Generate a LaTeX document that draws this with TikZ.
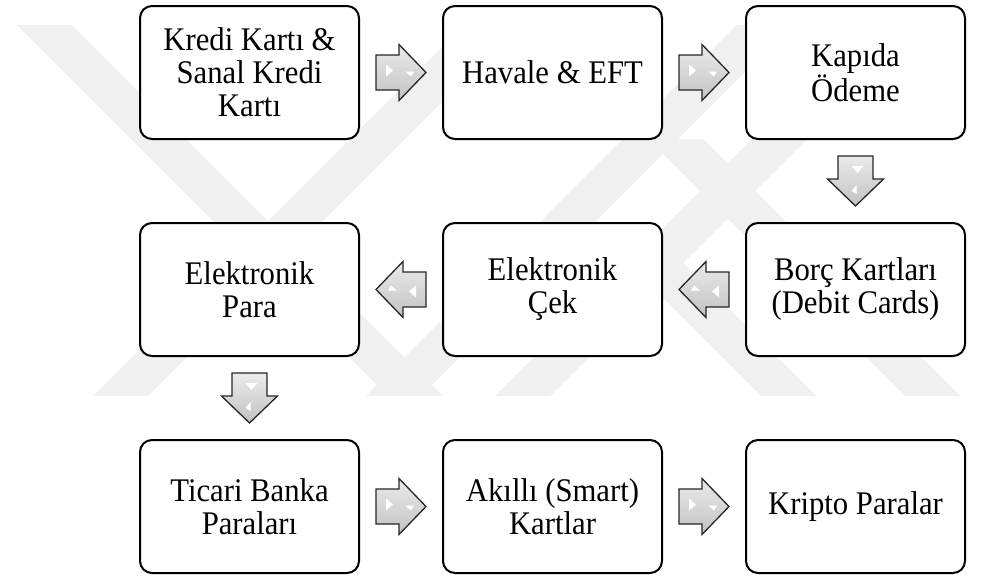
\documentclass[tikz,border=0pt]{standalone}
\usepackage{fontspec}
\setmainfont{Liberation Serif}[FakeStretch = 0.93]
\usetikzlibrary{calc}
\tikzstyle{box} = [draw, line width = 2pt, rounded corners = 12pt, fill = white,
                   minimum width = 219pt, minimum height = 133pt, inner sep = 0pt,
                   align = center, font = \fontsize{33}{33}\selectfont]
\tikzstyle{arrow body} = [draw = black!85, line width = 1.3pt, line join = miter,
                          top color = black!8, bottom color = black!24]
\tikzstyle{watermark} = [fill = black!6]
\tikzset{
    blockarrow/.pic = {
        \path [arrow body] (-25, -17.5) -- (-2, -17.5) -- (-2, -28) -- (25, 0)
                           -- (-2, 28) -- (-2, 17.5) -- (-25, 17.5) -- cycle;
        % white glints
        \fill [white] (-15, -8) -- (-15, 4) -- (-8, -2) -- cycle;
        \fill [white] (4, -1) -- (13, -1) -- (10, 4) -- cycle;
    }
}

\begin{document}
\begin{tikzpicture}[x = 1pt, y = -1pt]
    \useasboundingbox (0, 0) rectangle (984, 576);

    % faint logo behind the chart
    \begin{scope}
        \clip (0, 25) rectangle (984, 395);
        \foreach \c/\top in {-8/0, 365/223, 509/139}
            \path [watermark] (\c + \top, \top) -- (\c + \top + 55, \top)
                              -- (\c + 455, 400) -- (\c + 400, 400) -- cycle;
        \foreach \c in {489, 762, 891}
            \path [watermark] (\c, 0) -- (\c + 55, 0) -- (\c - 345, 400) -- (\c - 400, 400) -- cycle;
    \end{scope}

    \foreach \name/\col/\row/\text in {kredi/0/0/{Kredi Kartı \&\\Sanal Kredi\\Kartı},
                                      havale/1/0/{Havale \& EFT},
                                      kapida/2/0/{Kapıda\\Ödeme},
                                      borc/2/1/{Borç Kartları\\(Debit Cards)},
                                      cek/1/1/{Elektronik\\Çek},
                                      para/0/1/{Elektronik\\Para},
                                      ticari/0/2/{Ticari Banka\\Paraları},
                                      akilli/1/2/{Akıllı (Smart)\\Kartlar},
                                      kripto/2/2/{Kripto Paralar}}
    {
        \node [box] (\name) at (249.5 + 303 * \col, 72.5 + 217 * \row) {\text};
    }

    \foreach \from/\to/\angle in {kredi/havale/0, havale/kapida/0, kapida/borc/-90,
                                  borc/cek/180, cek/para/180, para/ticari/-90,
                                  ticari/akilli/0, akilli/kripto/0}
    {
        \pic [rotate = \angle] at ($(\from)!0.5!(\to)$) {blockarrow};
    }
\end{tikzpicture}
\end{document}
